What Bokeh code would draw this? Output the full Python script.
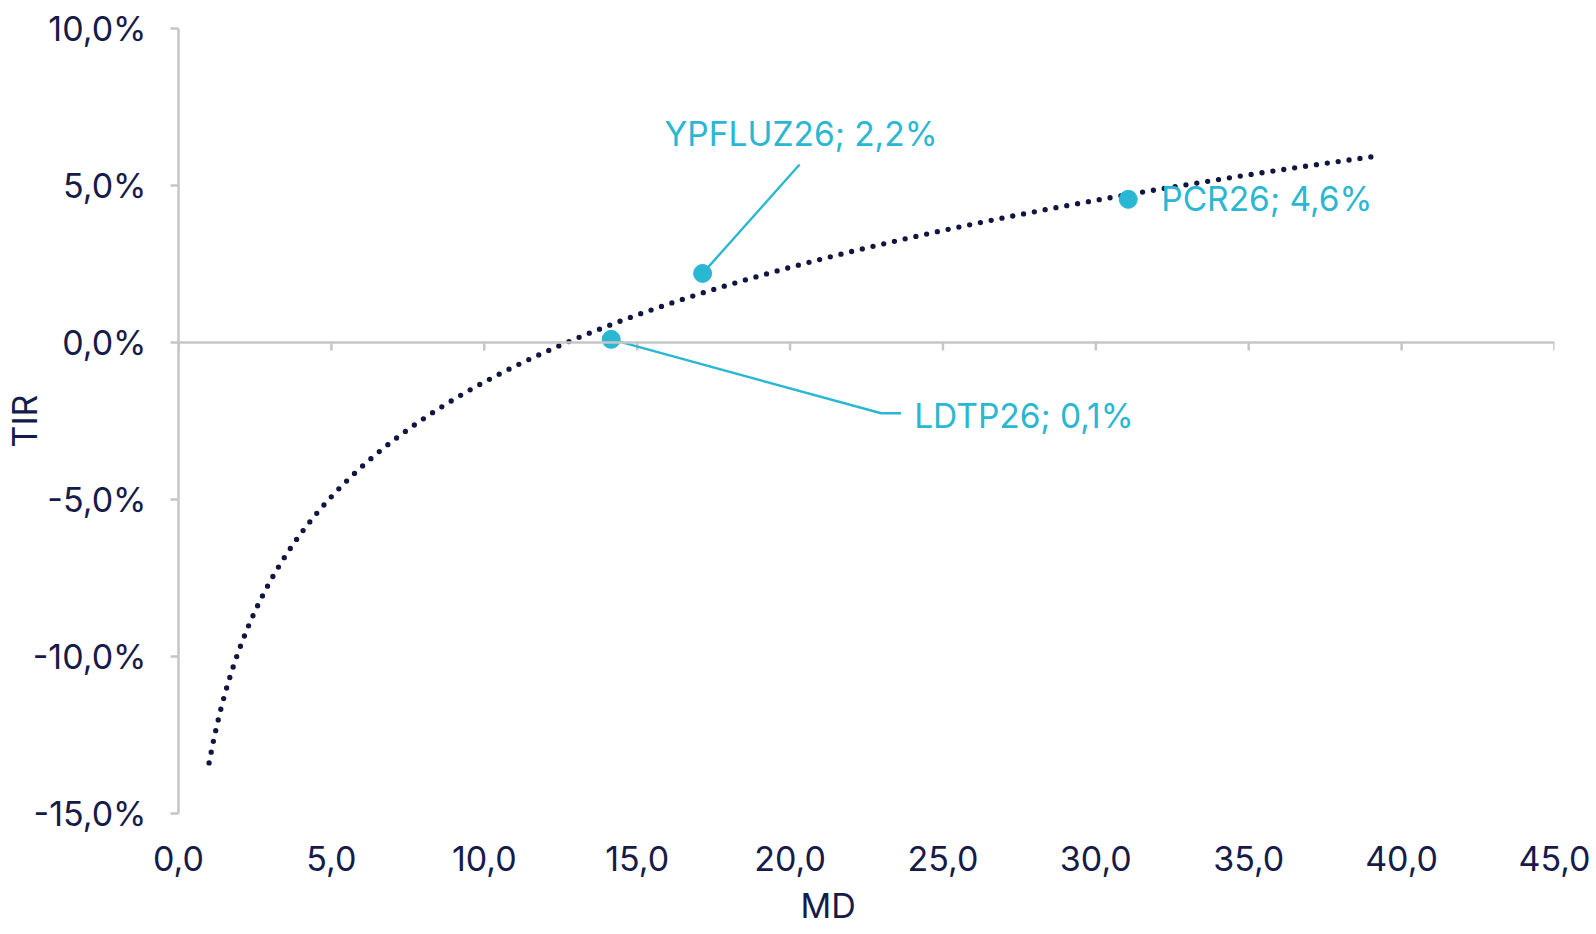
import numpy as np
from bokeh.plotting import figure
from bokeh.models import FixedTicker, Label, Range1d, Title, Span
from bokeh.embed import file_html
from bokeh.resources import INLINE

# ---------------- data ----------------
bonds = ["LDTP26", "YPFLUZ26", "PCR26"]
md = [14.15, 17.14, 31.06]          # modified duration (MD)
tir = [0.1, 2.2, 4.56]              # yield (TIR), %
trend_md_extent = [1.0, 39.0]        # range covered by the log trendline

x_ticks = [0, 5, 10, 15, 20, 25, 30, 35, 40, 45]
x_tick_labels = ["0,0", "5,0", "10,0", "15,0", "20,0", "25,0", "30,0", "35,0", "40,0", "45,0"]
y_ticks = [-15, -10, -5, 0, 5, 10]
y_tick_labels = ["-15,0%", "-10,0%", "-5,0%", "0,0%", "5,0%", "10,0%"]

# ---------------- style ----------------
FONT = "Inter"
NAVY = "#161B4A"
TREND = "#11153F"
CYAN = "#2AB7D3"
GRAY = "#C6C6C6"
FS = "34px"
FS_LAB = "33.5px"

W, H = 1596, 934
BL, BR, BT, BB = 178, 42, 28, 120
XR = (0, 45)
YR = (-15, 10)
px_x = (W - BL - BR) / (XR[1] - XR[0])
px_y = (H - BT - BB) / (YR[1] - YR[0])
TICK_PX = 8

# label / leader offsets in pixels (dx right, dy up), per bond
label_off = {"LDTP26": (303, -77), "YPFLUZ26": (-38, 140), "PCR26": (33, 0)}
leader_off = {"LDTP26": [(0, 0), (270, -74), (290, -74)],
              "YPFLUZ26": [(0, 0), (97, 109)],
              "PCR26": None}

p = figure(width=W, height=H, output_backend="svg", toolbar_location=None,
           x_range=Range1d(*XR), y_range=Range1d(*YR),
           min_border_left=BL, min_border_right=BR, min_border_top=BT, min_border_bottom=BB,
           background_fill_color="white", border_fill_color="white")
p.outline_line_color = None
p.xgrid.visible = False
p.ygrid.visible = False

# bottom axis: labels only
xa = p.xaxis[0]
xa.ticker = FixedTicker(ticks=x_ticks)
xa.major_label_overrides = {t: l for t, l in zip(x_ticks, x_tick_labels)}
xa.axis_line_color = None
xa.major_tick_line_color = None
xa.major_tick_out = 0
xa.major_tick_in = 0
xa.minor_tick_line_color = None
xa.minor_tick_out = 0
xa.major_label_standoff = 32
xa.major_label_text_font = FONT
xa.major_label_text_font_size = FS
xa.major_label_text_color = NAVY

# horizontal axis line at y=0 with downward ticks
p.add_layout(Span(location=0, dimension="width", line_color=GRAY, line_width=2.5))
p.segment(x0=x_ticks, y0=[0] * len(x_ticks), x1=x_ticks,
          y1=[-TICK_PX / px_y] * len(x_ticks), line_color=GRAY, line_width=2.5)

ya = p.yaxis[0]
ya.ticker = FixedTicker(ticks=y_ticks)
ya.major_label_overrides = {t: l for t, l in zip(y_ticks, y_tick_labels)}
ya.axis_line_color = GRAY
ya.axis_line_width = 2.5
ya.major_tick_line_color = GRAY
ya.major_tick_line_width = 2.5
ya.major_tick_out = TICK_PX
ya.major_tick_in = 0
ya.minor_tick_line_color = None
ya.minor_tick_out = 0
ya.major_label_standoff = 24
ya.major_label_text_font = FONT
ya.major_label_text_font_size = FS
ya.major_label_text_color = NAVY
ya.axis_label = "TIR"
ya.axis_label_text_font = FONT
ya.axis_label_text_font_size = FS
ya.axis_label_text_font_style = "normal"
ya.axis_label_text_color = NAVY
ya.axis_label_standoff = -15

# x axis title (MD), placed left-aligned with an offset
p.add_layout(Title(text="MD", align="left", offset=622, text_font=FONT, text_font_size=FS,
                   text_font_style="normal", text_color=NAVY, standoff=18), "below")

# logarithmic trendline fitted on the points
a, b = np.polyfit(np.log(md), tir, 1)
xs = np.linspace(trend_md_extent[0], trend_md_extent[1], 300)
ys = a * np.log(xs) + b
p.line(xs, ys, line_color=TREND, line_width=5.3, line_dash="0 11", line_cap="round")

# leader lines
lx, ly = [], []
for name, x, y in zip(bonds, md, tir):
    off = leader_off[name]
    if off:
        lx.append([x + dx / px_x for dx, dy in off])
        ly.append([y + dy / px_y for dx, dy in off])
p.multi_line(lx, ly, line_color=CYAN, line_width=2.4)

# points
p.scatter(md, tir, size=18, fill_color=CYAN, line_color=CYAN)

# data labels
for name, x, y in zip(bonds, md, tir):
    dx, dy = label_off[name]
    txt = f"{name}; {y:.1f}%".replace(".", ",")
    p.add_layout(Label(x=x + dx / px_x, y=y + dy / px_y, text=txt,
                       text_font=FONT, text_font_size=FS_LAB, text_color=CYAN,
                       text_align="left", text_baseline="middle"))

open("out.html", "w").write(file_html(p, INLINE))
